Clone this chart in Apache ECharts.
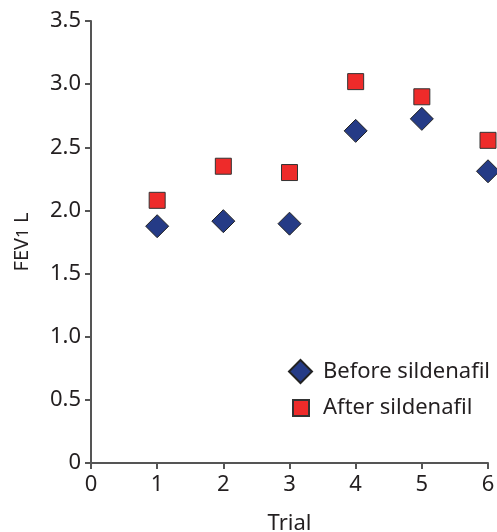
<!DOCTYPE html>
<html><head><meta charset="utf-8">
<script src="https://cdn.jsdelivr.net/npm/echarts@6/dist/echarts.min.js"></script>
<style>html,body{margin:0;padding:0;background:#fff}#c{width:497px;height:532px}</style>
</head><body><div id="c"></div>
<script>
var trials = [1, 2, 3, 4, 5, 6];
var before = [1.875, 1.915, 1.895, 2.63, 2.725, 2.31];
var after = [2.08, 2.35, 2.30, 3.02, 2.90, 2.555];
var xTicks = [0, 1, 2, 3, 4, 5, 6];
var yTicks = [0, 0.5, 1.0, 1.5, 2.0, 2.5, 3.0, 3.5];

var FONT = 'Noto Sans';
var axisCol = '#555';
var txtCol = '#231f20';
var chart = echarts.init(document.getElementById('c'));
chart.setOption({
  animation: false,
  textStyle: {fontFamily: FONT},
  grid: {left: 91, right: 9, top: 21, bottom: 69, containLabel: false, outerBoundsMode: 'none'},
  xAxis: {
    type: 'value', min: xTicks[0], max: xTicks[xTicks.length - 1], interval: 1,
    name: 'Trial', nameLocation: 'middle', nameGap: 50,
    nameTextStyle: {fontSize: 22, color: txtCol, fontFamily: FONT, verticalAlign: 'top'},
    axisLine: {show: true, lineStyle: {color: axisCol, width: 2}},
    axisTick: {show: true, length: 6, lineStyle: {color: axisCol, width: 2}},
    axisLabel: {fontSize: 22, color: txtCol, margin: 11, fontFamily: FONT},
    splitLine: {show: false}
  },
  yAxis: {
    type: 'value', min: yTicks[0], max: yTicks[yTicks.length - 1], interval: 0.5,
    name: 'FEV{s|1} L', nameLocation: 'middle', nameGap: 59,
    nameTextStyle: {fontSize: 20, color: txtCol, fontFamily: FONT,
      rich: {s: {fontSize: 17, color: txtCol, fontFamily: FONT, padding: [3, 0, 0, 0]}}},
    axisLine: {show: true, lineStyle: {color: axisCol, width: 2}},
    axisTick: {show: true, length: 6, lineStyle: {color: axisCol, width: 2}},
    axisLabel: {fontSize: 22, color: txtCol, margin: 10, fontFamily: FONT,
      formatter: function (v) { return v === 0 ? '0' : v.toFixed(1); }},
    splitLine: {show: false}
  },
  legend: [{
    data: ['Before sildenafil'], orient: 'vertical', left: 288, top: 359, padding: 0,
    icon: 'diamond', itemWidth: 23, itemHeight: 23,
    textStyle: {fontSize: 22, color: txtCol, fontFamily: FONT, padding: [0, 0, 0, 6]}
  }, {
    data: ['After sildenafil'], orient: 'vertical', left: 292, top: 397, padding: 0,
    icon: 'rect', itemWidth: 16, itemHeight: 16,
    textStyle: {fontSize: 22, color: txtCol, fontFamily: FONT, padding: [0, 0, 0, 9]}
  }],
  series: [{
    name: 'Before sildenafil', type: 'scatter', symbol: 'diamond', symbolSize: 23,
    itemStyle: {color: '#253b86', borderColor: '#222', borderWidth: 1, opacity: 1},
    data: trials.map(function (t, i) { return [t, before[i]]; })
  }, {
    name: 'After sildenafil', type: 'scatter', symbol: 'rect', symbolSize: 16,
    itemStyle: {color: '#ee2b2a', borderColor: '#333', borderWidth: 1, opacity: 1},
    data: trials.map(function (t, i) { return [t, after[i]]; })
  }]
});
</script></body></html>
